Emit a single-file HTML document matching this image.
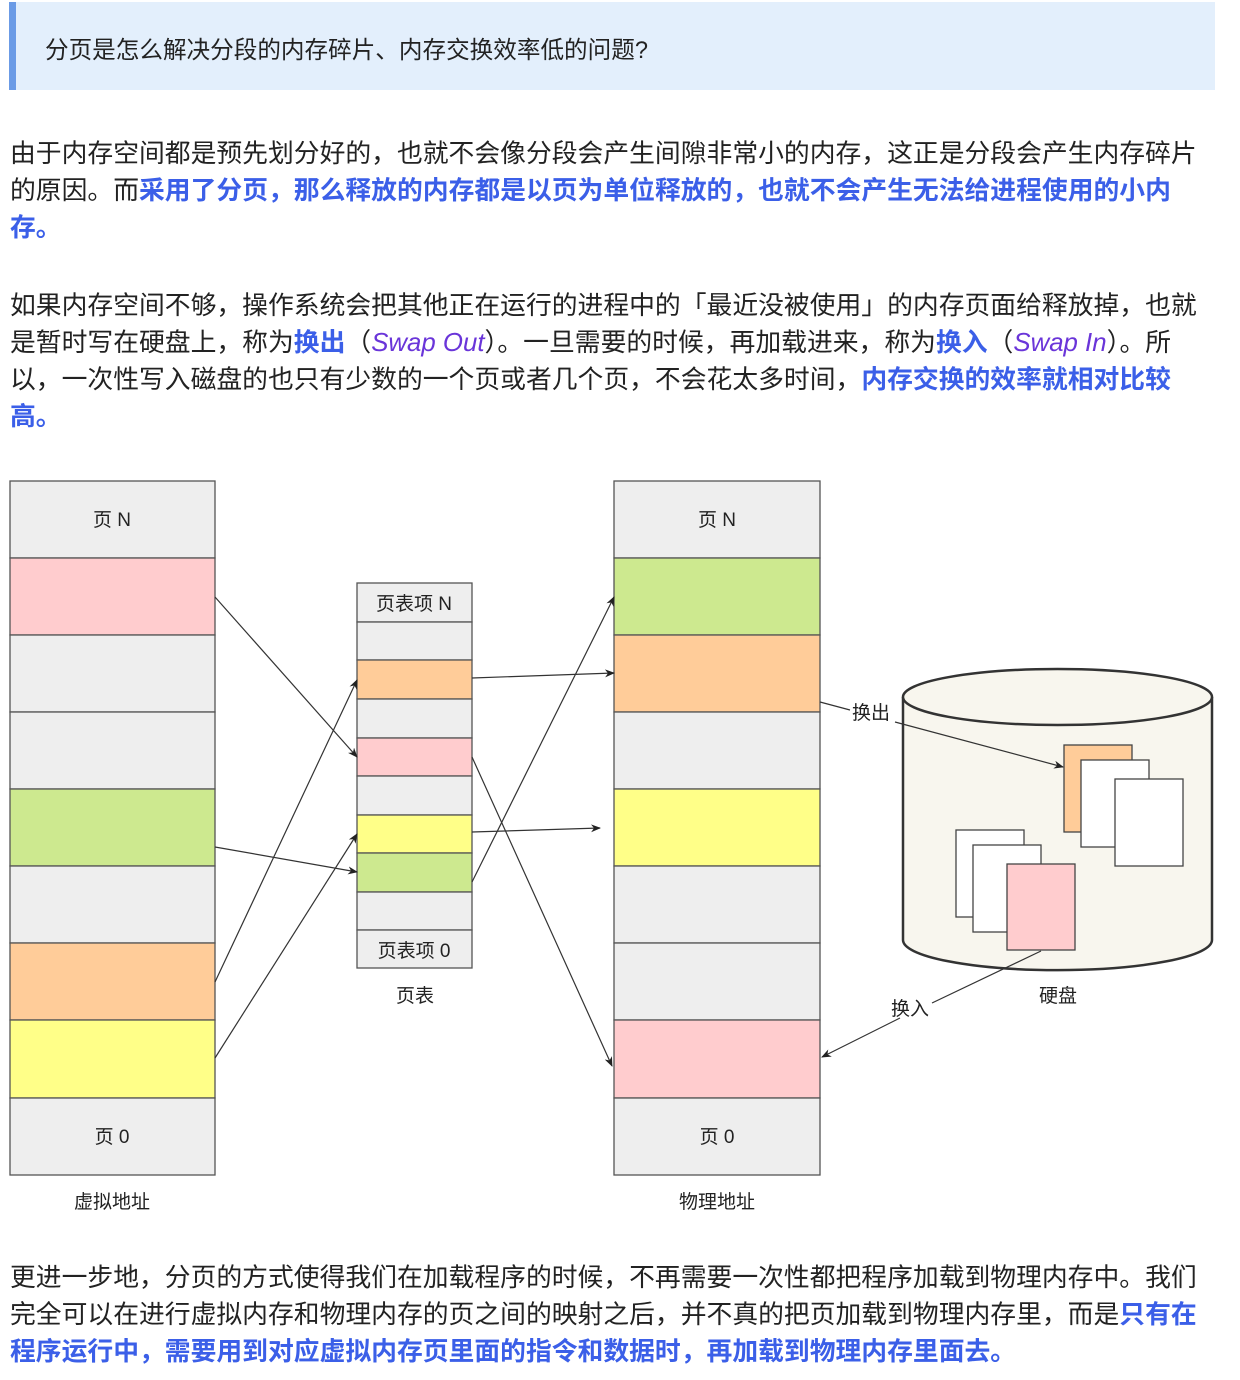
<!DOCTYPE html>
<html><head><meta charset="utf-8"><style>
body{margin:0;background:#fff;width:1240px;height:1380px;position:relative;font-family:"Liberation Sans","Noto Sans CJK SC",sans-serif;color:#222;overflow:hidden}
.q{position:absolute;left:9px;top:2px;width:1206px;height:88px;background:#e3effc;border-left:7px solid #6b9be6;box-sizing:border-box}
.q span{position:absolute;left:29px;top:29px;font-size:23.6px;color:#222;white-space:nowrap}
.p{position:absolute;left:10px;width:1230px;font-size:25.8px;line-height:37px;margin:0;white-space:nowrap}
b{color:#3b5fe8;font-weight:bold}
i{color:#6a35d9}
</style></head><body>
<div class="q"><span>分页是怎么解决分段的内存碎片、内存交换效率低的问题?</span></div>
<p class="p" style="top:136px">由于内存空间都是预先划分好的，也就不会像分段会产生间隙非常小的内存，这正是分段会产生内存碎片<br>的原因。而<b>采用了分页，那么释放的内存都是以页为单位释放的，也就不会产生无法给进程使用的小内<br>存。</b></p>
<p class="p" style="top:288px">如果内存空间不够，操作系统会把其他正在运行的进程中的「最近没被使用」的内存页面给释放掉，也就<br>是暂时写在硬盘上，称为<b>换出</b>（<i>Swap Out</i>）。一旦需要的时候，再加载进来，称为<b>换入</b>（<i>Swap In</i>）。所<br>以，一次性写入磁盘的也只有少数的一个页或者几个页，不会花太多时间，<b>内存交换的效率就相对比较<br>高。</b></p>
<svg style="position:absolute;left:0;top:0" width="1240" height="1380" font-family="Liberation Sans, Noto Sans CJK SC, sans-serif" font-size="19">
<defs><marker id="a" markerWidth="10" markerHeight="8" refX="9" refY="4" orient="auto" markerUnits="userSpaceOnUse"><path d="M0,0L10,4L0,8L3,4z" fill="#222"/></marker></defs>
<g stroke="#555" stroke-width="1.3">
<rect x="10" y="481" width="205" height="77" fill="#eee"/>
<rect x="10" y="558" width="205" height="77" fill="#ffccce"/>
<rect x="10" y="635" width="205" height="77" fill="#eee"/>
<rect x="10" y="712" width="205" height="77" fill="#eee"/>
<rect x="10" y="789" width="205" height="77" fill="#cde98f"/>
<rect x="10" y="866" width="205" height="77" fill="#eee"/>
<rect x="10" y="943" width="205" height="77" fill="#ffcc99"/>
<rect x="10" y="1020" width="205" height="78" fill="#ffff88"/>
<rect x="10" y="1098" width="205" height="77" fill="#eee"/>
<rect x="614" y="481" width="206" height="77" fill="#eee"/>
<rect x="614" y="558" width="206" height="77" fill="#cde98f"/>
<rect x="614" y="635" width="206" height="77" fill="#ffcc99"/>
<rect x="614" y="712" width="206" height="77" fill="#eee"/>
<rect x="614" y="789" width="206" height="77" fill="#ffff88"/>
<rect x="614" y="866" width="206" height="77" fill="#eee"/>
<rect x="614" y="943" width="206" height="77" fill="#eee"/>
<rect x="614" y="1020" width="206" height="78" fill="#ffccce"/>
<rect x="614" y="1098" width="206" height="77" fill="#eee"/>
<rect x="357" y="583" width="115" height="39" fill="#eee"/>
<rect x="357" y="622" width="115" height="38" fill="#eee"/>
<rect x="357" y="660" width="115" height="39" fill="#ffcc99"/>
<rect x="357" y="699" width="115" height="39" fill="#eee"/>
<rect x="357" y="738" width="115" height="38" fill="#ffccce"/>
<rect x="357" y="776" width="115" height="39" fill="#eee"/>
<rect x="357" y="815" width="115" height="38" fill="#ffff88"/>
<rect x="357" y="853" width="115" height="39" fill="#cde98f"/>
<rect x="357" y="892" width="115" height="38" fill="#eee"/>
<rect x="357" y="930" width="115" height="38" fill="#eee"/>
</g>
<g fill="#222" text-anchor="middle">
<text x="112" y="526">页 N</text><text x="112" y="1143">页 0</text>
<text x="717" y="526">页 N</text><text x="717" y="1143">页 0</text>
<text x="414" y="610">页表项 N</text><text x="414" y="957">页表项 0</text>
<text x="415" y="1002">页表</text><text x="1058" y="1002">硬盘</text>
<text x="112" y="1208">虚拟地址</text><text x="717" y="1208">物理地址</text>
<text x="871" y="719">换出</text><text x="910" y="1015">换入</text>
</g>
<g stroke="#333" stroke-width="1.2" fill="none" marker-end="url(#a)">
<line x1="215" y1="597" x2="357" y2="757"/>
<line x1="215" y1="847" x2="357" y2="872"/>
<line x1="215" y1="982" x2="357" y2="680"/>
<line x1="215" y1="1058" x2="357" y2="834"/>
<line x1="472" y1="678" x2="614" y2="673"/>
<line x1="472" y1="832" x2="600" y2="828"/>
<line x1="472" y1="882" x2="614" y2="597"/>
<line x1="472" y1="757" x2="612" y2="1066"/>
</g>
<path d="M903,697 V940 A154,30 0 0 0 1212,940 V697" fill="#f8f6ee" stroke="#333" stroke-width="2.5"/>
<ellipse cx="1057.5" cy="697" rx="154.5" ry="28" fill="#f8f6ee" stroke="#333" stroke-width="2.5"/>
<g stroke="#444" stroke-width="1.3">
<rect x="1064" y="745" width="68" height="87" fill="#ffcc99"/>
<rect x="1081" y="760" width="68" height="87" fill="#fff"/>
<rect x="1115" y="779" width="68" height="87" fill="#fff"/>
<rect x="956" y="830" width="68" height="87" fill="#fff"/>
<rect x="973" y="845" width="68" height="87" fill="#fff"/>
<rect x="1007" y="864" width="68" height="86" fill="#ffccce"/>
</g>
<g stroke="#333" stroke-width="1.2" fill="none">
<line x1="820" y1="702" x2="850" y2="710"/>
<line x1="895" y1="722" x2="1063" y2="767" marker-end="url(#a)"/>
<line x1="1041" y1="951" x2="932" y2="1003"/>
<line x1="900" y1="1018" x2="822" y2="1057" marker-end="url(#a)"/>
</g>
</svg>
<p class="p" style="top:1260px">更进一步地，分页的方式使得我们在加载程序的时候，不再需要一次性都把程序加载到物理内存中。我们<br>完全可以在进行虚拟内存和物理内存的页之间的映射之后，并不真的把页加载到物理内存里，而是<b>只有在<br>程序运行中，需要用到对应虚拟内存页里面的指令和数据时，再加载到物理内存里面去。</b></p>
</body></html>
